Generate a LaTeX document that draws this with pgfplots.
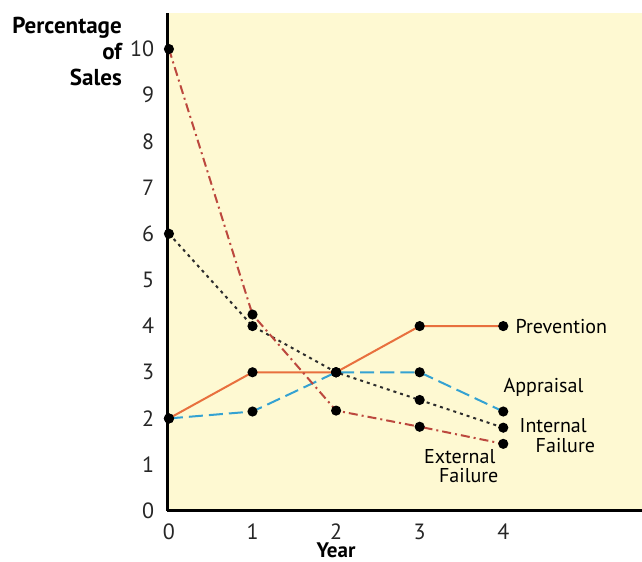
\documentclass[border=0pt]{standalone}
\usepackage{fontspec}
\setmainfont{PT Sans}
\usepackage{pgfplots}
\pgfplotsset{compat=1.18}
\definecolor{bg}{RGB}{254,249,210}
\definecolor{prevc}{RGB}{232,112,62}
\definecolor{apprc}{RGB}{52,162,210}
\definecolor{extc}{RGB}{188,72,62}
\definecolor{intc}{RGB}{45,45,45}
\begin{document}
\begin{tikzpicture}
\useasboundingbox (-83.5pt,-25.5pt) rectangle (237pt,255pt);
\begin{axis}[
 at={(0,0)}, anchor=south west,
 scale only axis, width=237pt, height=248.5pt,
 xmin=-0.02, xmax=5.66, ymin=0, ymax=10.78,
 axis x line*=bottom, axis y line*=left,
 axis line style={line width=1.5pt, -},
 axis background/.style={fill=bg},
 xtick={0,...,4}, ytick={0,...,10},
 major tick length=0,
 tick label style={font=\fontsize{11}{12}\selectfont, color=black!85},
 /pgf/number format/assume math mode=true,
 yticklabel style={xshift=-3pt},
 xticklabel style={yshift=-3pt},
 clip=false,
 every axis plot/.append style={line width=1pt, mark=*, mark size=2pt, mark options={solid, fill=black, draw=black}},
 every node/.append style={font=\fontsize{10.5}{12}\selectfont, text=black!85},
]
\addplot[prevc] coordinates {(0,2) (1,3) (2,3) (3,4) (4,4)};
\addplot[apprc, dash pattern=on 7pt off 3pt] coordinates {(0,2) (1,2.15) (2,3) (3,3) (4,2.15)};
\addplot[intc, dash pattern=on 1.5pt off 2pt] coordinates {(0,6) (1,4) (2,3) (3,2.4) (4,1.8)};
\addplot[extc, dash pattern=on 4.5pt off 2pt on 1pt off 2pt] coordinates {(0,10) (1,4.25) (2,2.17) (3,1.82) (4,1.45)};

\node[anchor=west, inner sep=0, xshift=6pt] at (axis cs:4,4) {Prevention};
\node[anchor=base west, inner sep=0] at (axis cs:4,2.56) {Appraisal};
\node[anchor=base west, inner sep=0, xshift=8pt] at (axis cs:4,1.69) {Internal};
\node[anchor=base west, inner sep=0, xshift=16pt] at (axis cs:4,1.26) {Failure};
\node[anchor=base west, inner sep=0, xshift=2pt] at (axis cs:3,1.02) {External};
\node[anchor=base west, inner sep=0, xshift=9.5pt] at (axis cs:3,0.61) {Failure};
\node[anchor=north, inner sep=0, yshift=-16pt, font=\fontsize{10.5}{12}\selectfont\bfseries] at (axis cs:2,0) {Year};
\node[anchor=north east, inner sep=0, xshift=-22.5pt, yshift=-2pt, align=right, font=\fontsize{11.5}{13}\selectfont\bfseries] at (rel axis cs:0,1) {Percentage\\of\\Sales};
\end{axis}
\end{tikzpicture}
\end{document}
